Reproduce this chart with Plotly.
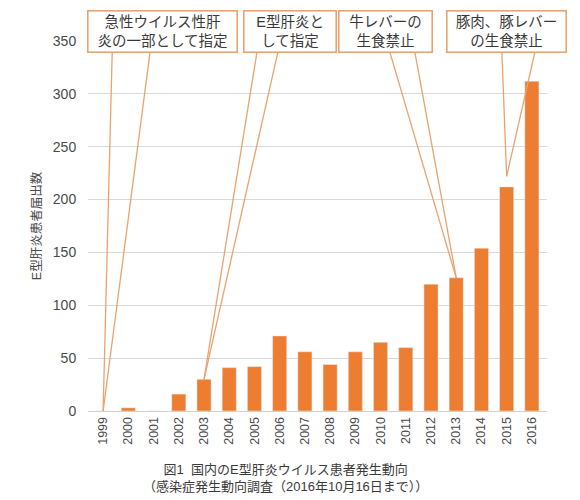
import plotly.graph_objects as go

# E型肝炎患者届出数 (感染症発生動向調査)
years = list(range(1999, 2017))
cases = [0, 3, 0, 16, 30, 41, 42, 71, 56, 44, 56, 65, 60, 120, 126, 154, 212, 312]

# callouts: text, year pointed at, extra height above the bar
callout_texts = [
    "急性ウイルス性肝<br>炎の一部として指定",
    "E型肝炎と<br>して指定",
    "牛レバーの<br>生食禁止",
    "豚肉、豚レバー<br>の生食禁止",
]
callout_years = [1999, 2003, 2013, 2015]
callout_offsets = [0, 0, 0, 10]
# box centre (year units), box width (px), tail base x pair (year units)
box_centers = [2001.34, 2006.4, 2010.2, 2015.0]
box_widths = [146, 89, 90, 116]
tail_bases = [(1999.36, 2000.86), (2005.1, 2005.93), (2010.37, 2011.36), (2014.81, 2016.12)]

orange = "#ED7D31"
border = "#E9A36E"
text_col = "#3a3a3a"
font_fam = "Liberation Sans, Noto Sans CJK JP, sans-serif"

fig = go.Figure(go.Bar(x=years, y=cases, marker_color=orange, width=0.56))

shapes = []
annotations = []
for txt, yr, off, cx, bw, (b0, b1) in zip(callout_texts, callout_years, callout_offsets,
                                           box_centers, box_widths, tail_bases):
    tip_y = cases[years.index(yr)] + off
    for bx in (b0, b1):
        shapes.append(dict(type="line", xref="x", yref="y", x0=bx, y0=339.5, x1=yr, y1=tip_y,
                           line=dict(color=border, width=1.3), layer="above"))
    annotations.append(dict(
        text=txt, x=cx, y=1.027, xref="x", yref="paper", showarrow=False,
        xanchor="center", yanchor="middle", width=bw, height=38,
        bgcolor="white", bordercolor=border, borderwidth=1.6, borderpad=1,
        font=dict(family=font_fam, size=14.5, color=text_col),
    ))

annotations.append(dict(
    text="図1  国内のE型肝炎ウイルス患者発生動向<br>（感染症発生動向調査（2016年10月16日まで））",
    x=0.43, y=-0.18, xref="paper", yref="paper", showarrow=False,
    xanchor="center", yanchor="middle",
    font=dict(family=font_fam, size=13, color="#3a3a3a"),
))

fig.update_layout(
    width=572, height=492,
    margin=dict(l=80, r=33, t=33, b=89),
    plot_bgcolor="white", paper_bgcolor="white",
    showlegend=False,
    shapes=shapes,
    annotations=annotations,
    xaxis=dict(
        range=[1998.4, 2016.6], tickmode="array", tickvals=years,
        ticktext=[str(y) for y in years], tickangle=-90,
        tickfont=dict(family=font_fam, size=12.5, color="#4a4a4a"),
        showgrid=False, showline=True, linecolor="#d0d0d0", linewidth=1,
        ticks="", ticklen=0,
    ),
    yaxis=dict(
        range=[0, 350], tickvals=[0, 50, 100, 150, 200, 250, 300, 350],
        tickfont=dict(family=font_fam, size=14, color="#4a4a4a"),
        showgrid=True, gridcolor="#d9d9d9", gridwidth=1, zeroline=False,
        ticks="outside", ticklen=8, tickcolor="white",
        title=dict(text="E型肝炎患者届出数", standoff=8,
                   font=dict(family=font_fam, size=12.5, color="#4a4a4a")),
    ),
)

fig.write_html("out.html")
